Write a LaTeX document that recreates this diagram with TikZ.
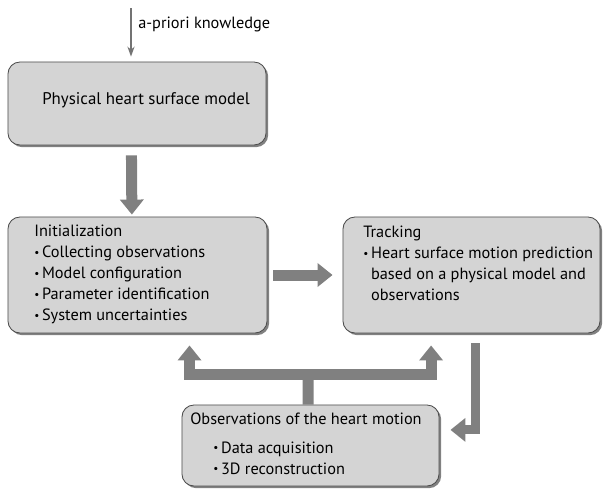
\documentclass[tikz,border=0pt]{standalone}
\usepackage{fontspec}
\setmainfont{PT Sans}
\usetikzlibrary{arrows.meta,shadows}
\newcommand\blt{{\fontsize{8}{8}\selectfont\raisebox{0.25ex}{\textbullet}}\,}
\begin{document}
\begin{tikzpicture}[x=0.025cm,y=-0.025cm,
  box/.style={draw=black!70,line width=0.6pt,fill=black!17,rounded corners=0.3cm,
    drop shadow={shadow xshift=1.5pt,shadow yshift=-1.5pt,fill=black!70,opacity=0.7}},
  txt/.style={inner sep=0pt,align=left,anchor=north west,font=\fontsize{11.6}{14.9}\selectfont},
  fat/.style={draw=black!50,line width=0.275cm,line join=miter},
  fatarrow/.style={fat,-{Triangle[width=0.575cm,length=0.375cm]}}]
\useasboundingbox (0,0) rectangle (604,488);
\node[box,minimum width=6.45cm,minimum height=2.075cm] (model) at (137,103.5) {};
\node[box,minimum width=6.475cm,minimum height=2.9cm] (init) at (137.5,275) {};
\node[box,minimum width=6.425cm,minimum height=2.9cm] (track) at (471.5,275) {};
\node[box,minimum width=6.425cm,minimum height=2.025cm] (obs) at (310.5,445.5) {};
\coordinate (apriori) at (131,8);
\coordinate (junction) at (308,374);
\draw[black!55,line width=0.8pt,-{Stealth[length=0.25cm,width=0.18cm]},shorten >=0.125cm] (apriori) -- (apriori |- model.north);
\node[txt,anchor=west] (apriorilbl) at (138,24) {a-priori knowledge};
\node[txt,anchor=west,font=\fontsize{12}{14.9}\selectfont] (modeltxt) at (42,100) {Physical heart surface model};
\node[txt] (inittxt) at (34,225) {Initialization\\\blt Collecting observations\\\blt Model configuration\\\blt Parameter identification\\\blt System uncertainties};
\node[txt] (tracktxt) at (363,226) {Tracking\\\blt Heart surface motion prediction\\\hphantom{\blt}based on a physical model and\\\hphantom{\blt}observations};
\node[txt] (obstxt) at (190,413) {Observations of the heart motion\\[0.18cm]\hspace{0.575cm}\blt Data acquisition\\\hspace{0.575cm}\blt 3D reconstruction};
\draw[fatarrow,shorten <=0.25cm,shorten >=0.05cm] ([xshift=-0.14cm]model.south) -- ([xshift=-0.14cm]init.north);
\draw[fatarrow,shorten <=0.15cm,shorten >=0.25cm] (init.east) -- (track.west);
\draw[fat] ([xshift=-0.06cm]obs.north) -- (junction);
\draw[fatarrow,shorten >=0.3cm] (junction) -| ([xshift=1.3cm]init.south);
\draw[fatarrow,shorten >=0.3cm] (junction) -| ([xshift=-1.01cm]track.south);
\draw[fatarrow,line width=0.225cm,shorten <=0.25cm,shorten >=0.275cm] ([xshift=0.11cm]track.south) |- ([yshift=0.39cm]obs.east);
\end{tikzpicture}
\end{document}
